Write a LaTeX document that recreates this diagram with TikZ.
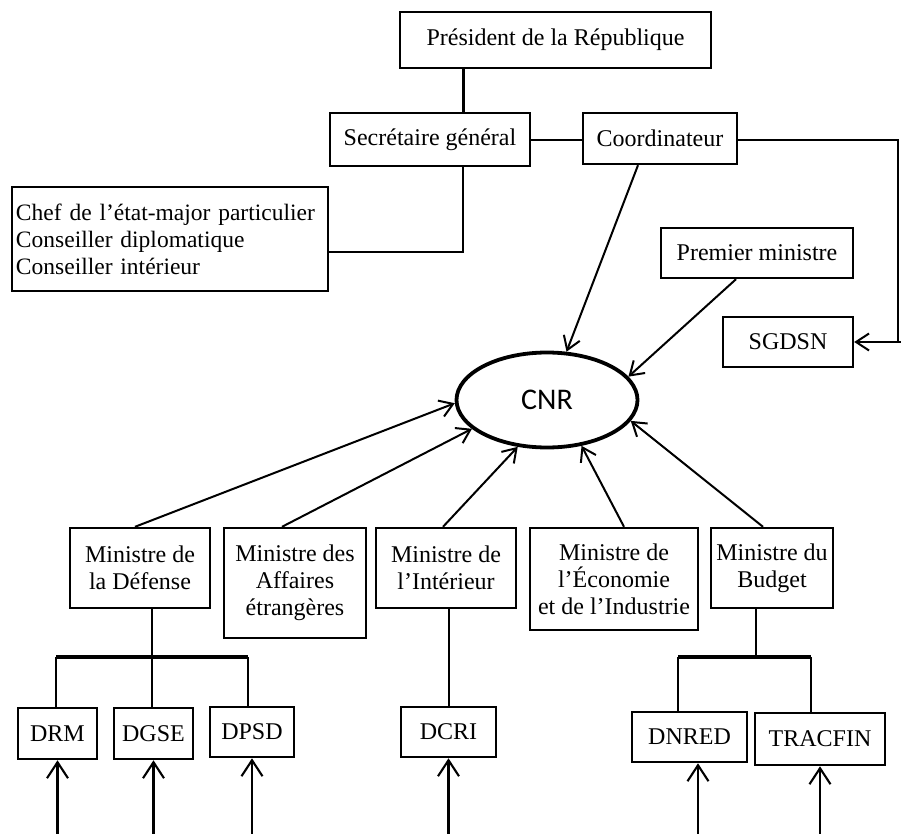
\documentclass[tikz,border=0pt]{standalone}
\usepackage{fontspec}
\setmainfont{Liberation Serif}
\newfontfamily\cnrfont{Carlito}
\usetikzlibrary{arrows.meta,shapes.geometric}
\begin{document}
\begin{tikzpicture}[x=1pt,y=-1pt,
  box/.style={draw,line width=2.4pt,inner sep=2pt,font=\fontsize{24}{27}\selectfont,align=center},
  link/.style={line width=2.4pt},
  thinlink/.style={line width=2pt},
  barline/.style={line width=4.2pt},
  arr/.style={line width=2pt,-{Straight Barb[length=13pt,width=17pt,line width=2pt]}},
  uparr/.style={line width=2.1pt,-{Straight Barb[length=16pt,width=21pt,line width=2.1pt]}},
]
\useasboundingbox[fill=white] (0,0) rectangle (901,834);

% top
\node[box,minimum width=311pt,minimum height=56pt] (pres) at (555.5,40) {Président de la République};
\node[box,minimum width=200pt,minimum height=53pt] (sec) at (430,139.5) {Secrétaire général};
\node[box,minimum width=154pt,minimum height=51pt] (coord) at (660,138.5) {Coordinateur};
\node[box,minimum height=104pt,text width=308pt,inner xsep=4pt,align=left,
  font=\fontsize{23.5}{27}\selectfont] (chef) at (170,239)
  {Chef de l’état-major particulier\\Conseiller diplomatique\\Conseiller intérieur};
\node[box,minimum width=192pt,minimum height=50pt] (prem) at (757,253) {Premier ministre};
\node[box,minimum width=130pt,minimum height=50pt] (sgdsn) at (788,342) {SGDSN};

% CNR
\node[draw,ellipse,line width=3.8pt,minimum width=181pt,minimum height=95pt,inner sep=0pt,
  font=\cnrfont\fontsize{30}{32}\selectfont] (cnr) at (547,400) {CNR};

% ministers
\node[box,minimum width=140pt,minimum height=80pt] (mdef) at (140,568) {Ministre de\\la Défense};
\node[box,minimum width=142pt,minimum height=110pt] (maff) at (295,583) {Ministre des\\Affaires\\étrangères};
\node[box,minimum width=140pt,minimum height=80pt] (mint) at (446,568) {Ministre de\\l’Intérieur};
\node[box,minimum width=168pt,minimum height=102pt] (meco) at (614,579) {Ministre de\\l’Économie\\et de l’Industrie};
\node[box,minimum width=122pt,minimum height=80pt] (mbud) at (772,568) {Ministre du\\Budget};

% services
\node[box,line width=2.6pt,minimum width=79pt,minimum height=51pt] (drm) at (57.5,733.5) {DRM};
\node[box,line width=2.6pt,minimum width=79pt,minimum height=51pt] (dgse) at (153.5,733.5) {DGSE};
\node[box,line width=2.6pt,minimum width=84pt,minimum height=50pt] (dpsd) at (252,732) {DPSD};
\node[box,line width=2.6pt,minimum width=95pt,minimum height=50pt] (dcri) at (448.5,732) {DCRI};
\node[box,line width=2.6pt,minimum width=115pt,minimum height=50pt] (dnred) at (689.5,737) {DNRED};
\node[box,line width=2.6pt,minimum width=130pt,minimum height=52pt] (tracfin) at (820,739) {TRACFIN};

% junction coordinates
\coordinate (jx) at (463,0);
\coordinate (jh) at (0,140);
\coordinate (jchef) at (463,252);
\coordinate (jr1) at (898,140);
\coordinate (jr2) at (898,342);
\coordinate (edge) at (901,342);
\coordinate (bdef) at (152,657);
\coordinate (bdl) at (56,657);
\coordinate (bdr) at (248,657);
\coordinate (bbud) at (756,657);
\coordinate (bbl) at (678,657);
\coordinate (bbr) at (811,657);
\coordinate (bot) at (0,834);

% top links
\draw[link,line width=3pt] (pres.south -| jx) -- (sec.north -| jx);
\draw[link] (sec.east |- jh) -- (coord.west |- jh);
\draw[link] (sec.south -| jx) -- (jchef) -- (chef.east |- jchef);
\draw[thinlink] (coord.east |- jh) -- (jr1) -- (jr2);
\draw[arr] (edge) -- (sgdsn.east);

% arrows to CNR
\draw[arr] ([xshift=-22pt]coord.south) -- (cnr.68);
\draw[arr] ([xshift=-21pt]prem.south) -- (cnr.16);
\draw[arr] ([xshift=-5pt]mdef.north) -- (cnr.182);
\draw[arr] ([xshift=-13pt]maff.north) -- (cnr.201);
\draw[arr] ([xshift=-3pt]mint.north) -- (cnr.238);
\draw[arr] ([xshift=10pt]meco.north) -- (cnr.307);
\draw[arr] ([xshift=-9pt]mbud.north) -- (cnr.346);

% Defense tree
\draw[thinlink] (mdef.south -| bdef) -- (bdef);
\draw[barline] (bdl) -- (bdr);
\draw[thinlink] (bdl) -- (drm.north -| bdl);
\draw[thinlink] (bdef) -- (dgse.north -| bdef);
\draw[thinlink] (bdr) -- (dpsd.north -| bdr);

% Interieur
\draw[thinlink] (dcri.north |- mint.south) -- (dcri.north);

% Budget tree
\draw[thinlink] (mbud.south -| bbud) -- (bbud);
\draw[barline] (bbl) -- (bbr);
\draw[thinlink] (bbl) -- (dnred.north -| bbl);
\draw[thinlink] (bbr) -- (tracfin.north -| bbr);

% bottom arrows
\draw[uparr] (drm.south |- bot) -- (drm.south);
\draw[uparr] (dgse.south |- bot) -- (dgse.south);
\draw[uparr] (dpsd.south |- bot) -- (dpsd.south);
\draw[uparr] (dcri.south |- bot) -- (dcri.south);
\draw[uparr] ([xshift=8.5pt]dnred.south |- bot) -- ([xshift=8.5pt]dnred.south);
\draw[uparr] (tracfin.south |- bot) -- (tracfin.south);
\end{tikzpicture}
\end{document}
